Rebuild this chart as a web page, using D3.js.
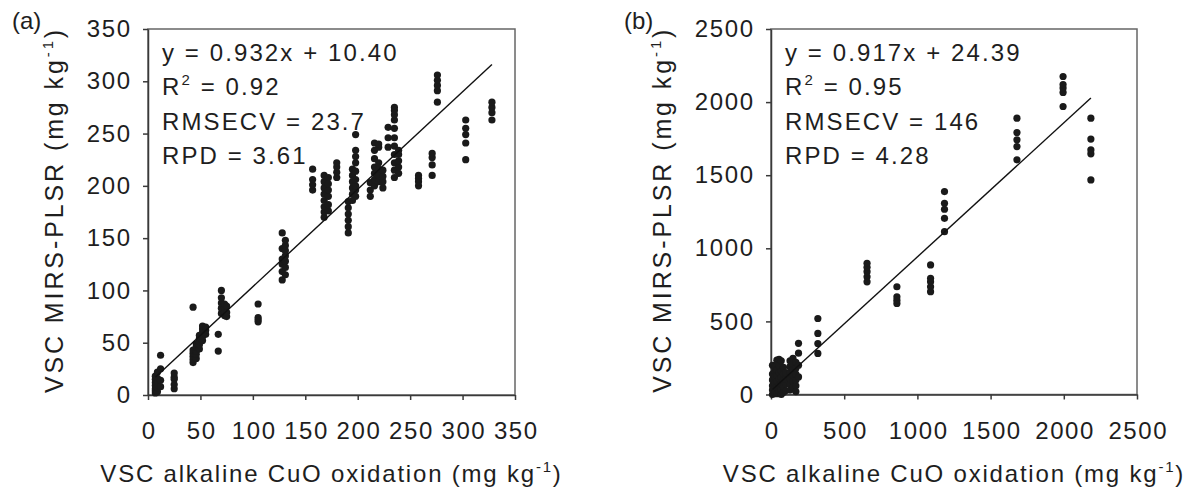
<!DOCTYPE html>
<meta charset="utf-8">
<script src="https://d3js.org/d3.v7.min.js"></script>
<style>
    body { margin: 0; background: #fff; }
    svg text { font-family: "Liberation Sans", Arial, sans-serif; fill: #1e1e1e; }
    .axis path, .axis line { stroke: #3a3a3a; stroke-width: 1.5px; }
    .axis text { font-size: 24px; letter-spacing: 1.6px; font-family: "Liberation Sans", Arial, sans-serif; fill: #1e1e1e; }
    .frame { fill: none; stroke: #666; stroke-width: 1.5px; }
    .dot { fill: #1a1a1a; }
    .fit { stroke: #111; stroke-width: 1.4px; }
    .stat { font-size: 24px; letter-spacing: 2.1px; }
    .xtitle { font-size: 24px; letter-spacing: 1.8px; }
    .ytitle { font-size: 25px; letter-spacing: 2.9px; }
    .tag { font-size: 24px; }
</style>
<div id="chart"></div>
<script>
    // panel (a): CuO reference values, with the MIRS-PLSR predictions for each
    let refA = [7, 9, 12, 25, 43, 46, 49, 52, 55, 67, 70, 73, 75, 105, 128, 131,
        157, 168, 172, 180, 191, 195, 198, 212, 216, 220, 224, 229, 235, 239,
        258, 271, 276, 303, 328];
    let predA = [
        [2, 4, 6, 9, 12, 15, 18],
        [3, 7, 10, 13, 16, 22],
        [8, 14, 25, 38],
        [6, 10, 15, 17, 21],
        [31, 34, 37, 40, 43, 84],
        [35, 39, 42, 46, 49],
        [44, 48, 51, 54, 57],
        [52, 56, 60, 63, 66],
        [58, 62, 65],
        [42, 58],
        [78, 83, 88, 93, 100],
        [76, 80, 84, 87],
        [75, 79, 85],
        [70, 72, 74, 87],
        [110, 118, 125, 130, 140, 155],
        [115, 122, 128, 133, 138, 143, 148],
        [196, 201, 206, 216],
        [170, 175, 180, 186, 192, 198, 204, 210],
        [176, 182, 190, 196, 202, 208],
        [208, 213, 218, 222],
        [155, 161, 167, 173, 179, 185],
        [186, 192, 198, 204, 210, 216],
        [190, 196, 200, 206, 214, 222, 228, 234, 249],
        [190, 196, 203],
        [200, 206, 212, 218, 226, 234, 241],
        [204, 210, 216, 222, 237, 240],
        [198, 204, 209, 215],
        [237, 246, 256],
        [208, 215, 222, 230, 238, 246, 255, 263, 268, 272, 275],
        [212, 218, 224, 230, 234],
        [200, 204, 207, 210],
        [210, 220, 227, 231],
        [280, 291, 296, 301, 306],
        [225, 241, 249, 255, 263],
        [263, 270, 275, 280]
    ];
    let fitA = [0.932, 10.40];
    let statsA = [["y = 0.932x + 10.40"], ["R", "2", " = 0.92"], ["RMSECV = 23.7"], ["RPD = 3.61"]];
    let ticksA = [0, 50, 100, 150, 200, 250, 300, 350];

    // panel (b)
    let refB = [10, 25, 40, 55, 70, 85, 100, 130, 150, 170, 188, 320, 656, 860, 1090, 1185, 1680, 1995, 2185];
    let predB = [
        [0, 30, 60, 100, 140, 200],
        [10, 45, 80, 120, 160, 190],
        [5, 50, 90, 130, 170, 235],
        [20, 60, 110, 150, 200, 240],
        [0, 35, 75, 115, 160, 230],
        [15, 55, 95, 140, 185],
        [25, 70, 105, 150],
        [30, 70, 110, 150, 190, 230],
        [50, 90, 130, 170, 210, 248],
        [20, 60, 100, 140, 180, 220],
        [120, 200, 283, 350],
        [281, 349, 418, 520],
        [771, 805, 840, 870, 897],
        [623, 645, 668, 737],
        [703, 737, 771, 795, 886],
        [1114, 1205, 1267, 1308, 1388],
        [1605, 1696, 1742, 1792, 1890],
        [1970, 2066, 2096, 2120, 2175],
        [1468, 1646, 1673, 1747, 1890]
    ];
    let fitB = [0.917, 24.39];
    let statsB = [["y = 0.917x + 24.39"], ["R", "2", " = 0.95"], ["RMSECV = 146"], ["RPD = 4.28"]];
    let ticksB = [0, 500, 1000, 1500, 2000, 2500];

    let svg = d3.select("#chart")
        .append("svg")
        .attr("width", 1186)
        .attr("height", 492);

    function addSup(sel, parts, supSize) {
        parts.forEach(function (t, i) {
            if (i % 2 == 1) {
                sel.append("tspan").attr("dy", -10).style("font-size", supSize + "px").text(t);
            } else {
                sel.append("tspan").attr("dy", i == 0 ? 0 : 10).text(t);
            }
        });
    }

    function drawPanel(p) {
        let x = d3.scaleLinear().domain([0, p.max]).range([p.left, p.right]);
        let y = d3.scaleLinear().domain([0, p.max]).range([p.bottom, p.top]);

        svg.append("rect")
            .attr("class", "frame")
            .attr("x", p.left).attr("y", p.top)
            .attr("width", p.right - p.left)
            .attr("height", p.bottom - p.top);

        svg.append("g")
            .attr("class", "axis")
            .attr("transform", "translate(0," + p.bottom + ")")
            .call(d3.axisBottom(x).tickValues(p.ticks).tickFormat(d3.format("d"))
                .tickSize(5).tickSizeOuter(0).tickPadding(22))
            .selectAll("text").attr("dx", "0.8px");

        svg.append("g")
            .attr("class", "axis")
            .attr("transform", "translate(" + p.left + ",0)")
            .call(d3.axisLeft(y).tickValues(p.ticks).tickFormat(d3.format("d"))
                .tickSize(5).tickSizeOuter(0).tickPadding(13))
            .selectAll("text").attr("dx", "1.6px");

        // observations
        let pts = [];
        p.ref.forEach(function (r, i) {
            p.pred[i].forEach(function (v) { pts.push([r, v]); });
        });
        svg.append("g").selectAll("circle")
            .data(pts)
            .enter()
            .append("circle")
            .attr("class", "dot")
            .attr("cx", function (d) { return x(d[0]); })
            .attr("cy", function (d) { return y(d[1]); })
            .attr("r", 3.6);

        // regression line over the range of the reference values
        let x0 = d3.min(p.ref), x1 = d3.max(p.ref);
        svg.append("line")
            .attr("class", "fit")
            .attr("x1", x(x0)).attr("y1", y(p.fit[0] * x0 + p.fit[1]))
            .attr("x2", x(x1)).attr("y2", y(p.fit[0] * x1 + p.fit[1]));

        p.stats.forEach(function (parts, i) {
            let t = svg.append("text")
                .attr("class", "stat")
                .attr("x", p.left + 14)
                .attr("y", 61 + i * 34.3);
            addSup(t, parts, 15);
        });

        let xt = svg.append("text")
            .attr("class", "xtitle")
            .attr("x", (p.left + p.right) / 2)
            .attr("y", 482)
            .attr("text-anchor", "middle");
        addSup(xt, ["VSC alkaline CuO oxidation (mg kg", "-1", ")"], 15);

        let yt = svg.append("text")
            .attr("class", "ytitle")
            .attr("transform", "translate(" + p.titleX + "," + ((p.top + p.bottom) / 2 - 2) + ") rotate(-90)")
            .attr("text-anchor", "middle");
        addSup(yt, ["VSC MIRS-PLSR (mg kg", "-1", ")"], 15);

        svg.append("text")
            .attr("class", "tag")
            .attr("x", p.tagX)
            .attr("y", 29)
            .text(p.tag);
    }

    drawPanel({
        ref: refA, pred: predA, fit: fitA, stats: statsA, ticks: ticksA, max: 350,
        left: 148, right: 515, top: 29, bottom: 395, titleX: 63, tagX: 12, tag: "(a)"
    });
    drawPanel({
        ref: refB, pred: predB, fit: fitB, stats: statsB, ticks: ticksB, max: 2500,
        left: 771, right: 1137, top: 29, bottom: 394.5, titleX: 671, tagX: 624, tag: "(b)"
    });
</script>
